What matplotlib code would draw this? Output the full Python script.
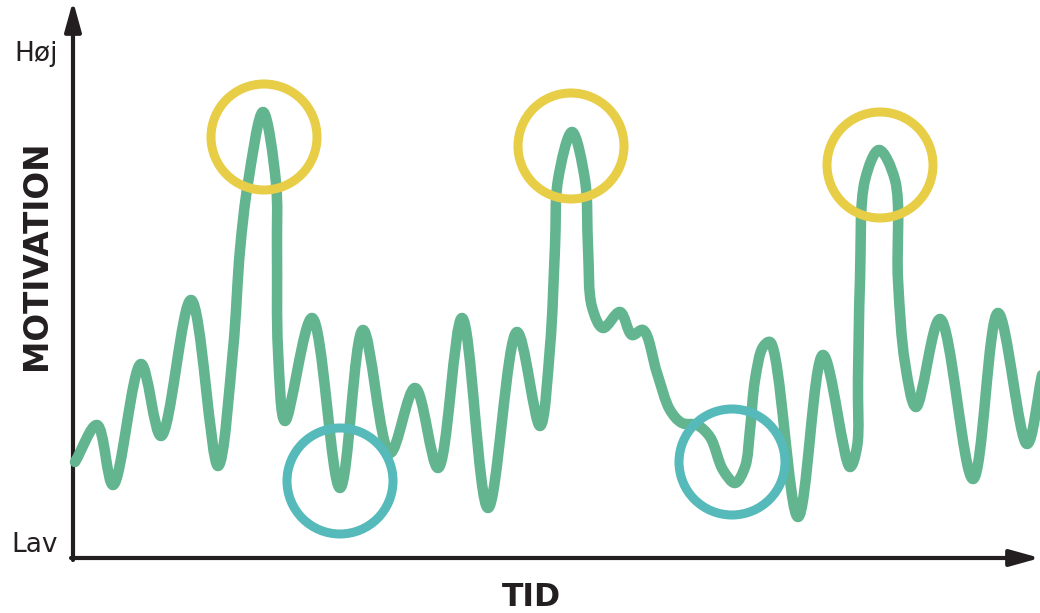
import numpy as np
import matplotlib
matplotlib.use("Agg")
import matplotlib.pyplot as plt
from matplotlib.path import Path
from matplotlib.patches import PathPatch, Ellipse, FancyArrowPatch

# tid (0-97) og motivation (0 = Lav, ca. 98 = Høj), aflæst fra kurven
tid = [0.2, 2.4, 4.0, 6.8, 8.8, 11.8, 14.5, 16.0, 16.7, 17.5, 19.0, 20.3, 20.4, 20.5,
       21.2, 23.9, 26.7, 29.0, 31.7, 34.2, 36.5, 38.9, 41.5, 44.4, 46.7, 47.7, 48.2,
       48.5, 49.9, 51.2, 51.5, 51.9, 53.0, 54.7, 55.9, 57.0, 58.4, 59.7, 60.9, 62.4,
       63.7, 65.0, 66.2, 67.2, 67.7, 68.2, 69.0, 69.7, 72.5, 75.0, 77.7, 78.4, 78.5, 78.7,
       79.2, 80.6, 82.2, 82.5, 83.2, 84.3, 86.7, 90.0, 92.5, 95.4, 96.9]
motivation = [16.6, 24.0, 12.0, 36.2, 21.8, 49.0, 15.8, 39.0, 59.0, 72.4, 86.6, 72.4, 59.0, 39.0,
              24.8, 45.4, 11.4, 43.0, 18.4, 31.4, 15.4, 45.4, 7.4, 42.6, 23.8, 39.6, 59.6,
              73.0, 82.6, 73.0, 59.6, 47.6, 43.4, 46.6, 42.0, 43.0, 34.4, 27.0, 24.4, 24.0,
              21.6, 15.0, 12.4, 15.6, 23.0, 33.0, 39.6, 40.6, 5.6, 38.0, 15.6, 19.6, 33.0, 53.0,
              73.0, 79.0, 73.0, 53.0, 36.4, 27.6, 45.2, 13.2, 46.4, 20.2, 34.0]

# markeringer: toppe (gul) og bunde (turkis)
top_tid = [19.1, 49.8, 80.7]
top_mot = [81.6, 79.8, 76.0]
bund_tid = [26.7, 65.9]
bund_mot = [12.8, 16.6]

groen = "#62B58F"
gul = "#E8CE47"
turkis = "#56BABB"
sort = "#231F20"


def smooth_path(ax, x, y):
    # centripetal catmull-rom, worked out in screen space, as bezier segments
    p = ax.transData.transform(np.column_stack([x, y]))
    p = np.vstack([2 * p[0] - p[1], p, 2 * p[-1] - p[-2]])
    verts = [p[1]]
    for i in range(1, len(p) - 2):
        p0, p1, p2, p3 = p[i - 1], p[i], p[i + 1], p[i + 2]
        d1 = np.linalg.norm(p1 - p0)
        d2 = np.linalg.norm(p2 - p1)
        d3 = np.linalg.norm(p3 - p2)
        s1, s2, s3 = np.sqrt(d1), np.sqrt(d2), np.sqrt(d3)
        b1 = (d1 * p2 - d2 * p0 + (2 * d1 + 3 * s1 * s2 + d2) * p1) / (3 * s1 * (s1 + s2))
        b2 = (d3 * p1 - d2 * p3 + (2 * d3 + 3 * s3 * s2 + d2) * p2) / (3 * s3 * (s3 + s2))
        verts += [b1, b2, p2]
    verts = ax.transData.inverted().transform(np.array(verts))
    codes = [Path.MOVETO] + [Path.CURVE4] * (len(verts) - 1)
    return Path(verts, codes)


fig = plt.figure(figsize=(10.4, 6.13), dpi=100)
ax = fig.add_axes([0, 0, 1, 1])
ax.set_xlim(-7.3, 96.7)
ax.set_ylim(-13.6, 109)
ax.axis("off")

# akser med pile
for start, slut in [((0, -3.0), (0, 108.8)), ((-0.2, -2.6), (96.7, -2.6))]:
    ax.add_patch(FancyArrowPatch(start, slut,
                                 arrowstyle="-|>,head_length=0.9,head_width=0.25",
                                 mutation_scale=20, lw=3, color=sort,
                                 shrinkA=0, shrinkB=0, zorder=2))

ax.add_patch(PathPatch(smooth_path(ax, tid, motivation), fill=False, edgecolor=groen,
                       lw=7.6, capstyle="round", joinstyle="round", zorder=3))

for t, mv in zip(top_tid, top_mot):
    ax.add_patch(Ellipse((t, mv), 10.6, 21.2, fill=False, edgecolor=gul, lw=6.5, zorder=4))
for t, mv in zip(bund_tid, bund_mot):
    ax.add_patch(Ellipse((t, mv), 10.6, 21.2, fill=False, edgecolor=turkis, lw=6.5, zorder=4))

ax.text(-1.5, 98.2, "Høj", ha="right", va="center", fontsize=19, color=sort,
        family="DejaVu Sans")
ax.text(-1.5, 0, "Lav", ha="right", va="center", fontsize=19, color=sort,
        family="DejaVu Sans")
ax.text(-3.6, 58, "MOTIVATION", rotation=90, ha="center", va="center", fontsize=23.5,
        fontweight="bold", color=sort, family="DejaVu Sans")
ax.text(45.8, -10.6, "TID", ha="center", va="center", fontsize=22.7,
        fontweight="bold", color=sort, family="DejaVu Sans")

fig.savefig("out.png", dpi=100)
